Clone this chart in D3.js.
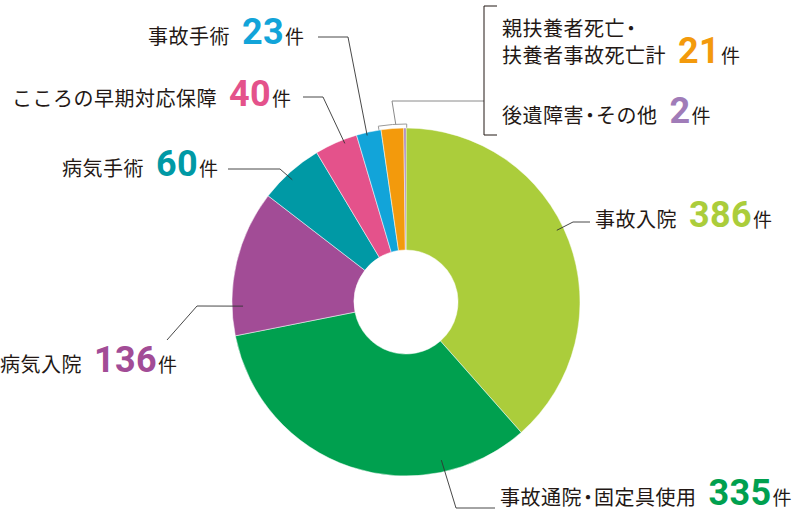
<!DOCTYPE html>
<html><head><meta charset="utf-8">
<script src="https://cdn.jsdelivr.net/npm/d3@7"></script>
<style>
html,body{margin:0;padding:0;background:#fff;}
svg{display:block;}
.dot{font-feature-settings:"palt" 1;}
</style></head>
<body>
<svg id="chart" width="800" height="524"></svg>
<script>
// ---- data ----
const categories = ["事故入院","事故通院・固定具使用","病気入院","病気手術","こころの早期対応保障","事故手術","親扶養者死亡・扶養者事故死亡計","後遺障害・その他"];
const values = [386, 335, 136, 60, 40, 23, 21, 2];
const unitLabel = "件";
const colors = ["#abcd3b","#00a04f","#a24c96","#0099a5","#e4528b","#12a4d9","#f39a0c","#a07cb8"];

// ---- layout ----
const cx = 406, cy = 302, R = 174, r0 = 52;
const svg = d3.select("#chart");
const g = svg.append("g").attr("transform", `translate(${cx},${cy})`);

const pie = d3.pie().sort(null).value(d => d)(values);
const arc = d3.arc().innerRadius(r0).outerRadius(R);

// outline marker behind the two small top slices
const markArc = d3.arc().innerRadius(R - 10).outerRadius(R + 4)
  .startAngle(pie[6].startAngle - 0.012).endAngle(pie[7].endAngle + 0.004);
g.append("path").attr("d", markArc()).attr("fill", "#fff").attr("stroke", "#9a9a9a").attr("stroke-width", 1);

g.selectAll("path.slice").data(pie).enter().append("path")
  .attr("class", "slice")
  .attr("d", arc)
  .attr("fill", (d, i) => colors[i])
  .attr("stroke", "#fff").attr("stroke-width", 0.5);

// label layout: anchor fraction within slice, anchor radius, leader elbows, text pos
const labelLayout = [
  {frac: 0.466, rad: 167, pts: [[573,222],[590,222]], x: 595, y: 227},
  {frac: 0.24,  rad: 162, pts: [[456,508],[495,508]], x: 500, y: 505},
  {frac: 0.20,  rad: 163, pts: [[197,306],[167,340]], x: 0,   y: 372},
  {frac: 0.44,  rad: 167, pts: [[280,169],[228,169]], x: 62,  y: 176},
  {frac: 0.68,  rad: 170, pts: [[323,97],[303,97]],   x: 12,  y: 106},
  {frac: 0.41,  rad: 171, pts: [[348,37],[318,37]],   x: 148, y: 44}
];

const ang = (d, f) => d.startAngle + (d.endAngle - d.startAngle) * f;
labelLayout.forEach((L, i) => {
  const a = ang(pie[i], L.frac);
  const p0 = [cx + L.rad * Math.sin(a), cy - L.rad * Math.cos(a)];
  svg.append("path").attr("d", d3.line()([p0, ...L.pts]))
    .attr("fill", "none").attr("stroke", "#333").attr("stroke-width", 0.9);
});

const CJK = "'Noto Sans CJK JP', 'Noto Sans', sans-serif";
function drawLabel(x, y, name, val, col) {
  const t = svg.append("text").attr("x", x).attr("y", y).attr("font-family", CJK);
  const parts = name.split("・");
  parts.forEach((p, k) => {
    if (k > 0) {
      t.append("tspan").attr("class", "dot").text("・").attr("dx", 1).attr("font-size", 20).attr("fill", "#231815");
    }
    if (p.length) {
      t.append("tspan").text(p).attr("dx", k > 0 ? 1 : 0).attr("font-size", 20)
        .attr("letter-spacing", 0.5).attr("fill", "#231815");
    }
  });
  if (val !== null) {
    t.append("tspan").text(val).attr("dx", 12).attr("font-family", "Roboto, 'DejaVu Sans', sans-serif")
      .attr("font-weight", 700).attr("font-size", 36).attr("letter-spacing", 0.3).attr("fill", col);
    t.append("tspan").text(unitLabel).attr("dx", 1).attr("font-size", 19).attr("fill", "#231815");
  }
}

for (let i = 0; i < 6; i++) {
  const L = labelLayout[i];
  drawLabel(L.x, L.y, categories[i], values[i], colors[i]);
}

// bracketed group for the two smallest slices
const topA = pie[6].startAngle + (pie[7].endAngle - pie[6].startAngle) * 0.6;
const tp = [cx + (R + 4) * Math.sin(topA), cy - (R + 4) * Math.cos(topA)];
svg.append("path").attr("d", d3.line()([tp, [392, 101], [484, 101]]))
  .attr("fill", "none").attr("stroke", "#8a8a8a").attr("stroke-width", 1);
svg.append("path").attr("d", d3.line()([[497, 6], [484, 6], [484, 135], [497, 135]]))
  .attr("fill", "none").attr("stroke", "#231815").attr("stroke-width", 1);

const n6 = categories[6].split("・");
drawLabel(502, 36, n6[0] + "・", null, null);
drawLabel(502, 63, n6[1], values[6], colors[6]);
drawLabel(502, 123, categories[7], values[7], colors[7]);
</script>
</body></html>
